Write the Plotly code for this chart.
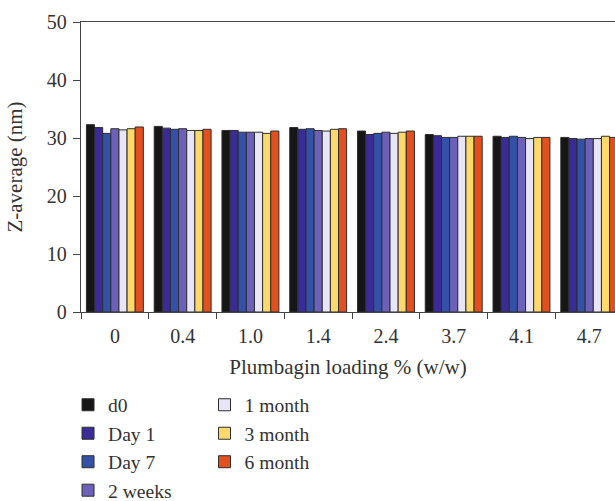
import plotly.graph_objects as go

categories = ["0", "0.4", "1.0", "1.4", "2.4", "3.7", "4.1", "4.7"]
series_names = ["d0", "Day 1", "Day 7", "2 weeks", "1 month", "3 month", "6 month"]
d0      = [32.3, 32.0, 31.3, 31.8, 31.2, 30.6, 30.3, 30.1]
day1    = [31.8, 31.7, 31.3, 31.5, 30.6, 30.4, 30.1, 29.9]
day7    = [30.8, 31.5, 31.0, 31.6, 30.8, 30.1, 30.3, 29.8]
weeks2  = [31.6, 31.6, 31.0, 31.3, 31.0, 30.1, 30.1, 29.9]
month1  = [31.4, 31.3, 31.0, 31.2, 30.8, 30.3, 29.9, 29.9]
month3  = [31.6, 31.3, 30.8, 31.5, 31.0, 30.3, 30.1, 30.3]
month6  = [31.9, 31.5, 31.2, 31.6, 31.2, 30.3, 30.1, 30.1]
colors = ["#161616", "#3a2b97", "#3451a8", "#6d60b8", "#e8e5f6", "#fdd86a", "#e2501f"]
y_ticks = [0, 10, 20, 30, 40, 50]

all_values = [d0, day1, day7, weeks2, month1, month3, month6]
FONT = "Liberation Serif"
INK = "#333333"

fig = go.Figure()
for i, (name, vals, col) in enumerate(zip(series_names, all_values, colors)):
    fig.add_trace(go.Bar(
        x=categories, y=vals, name=name,
        marker=dict(color=col, line=dict(color="#2e2e2e", width=1)),
        legend="legend" if i < 4 else "legend2",
    ))

fig.update_layout(
    width=615, height=501,
    margin=dict(l=81, r=0, t=22, b=189),
    paper_bgcolor="white", plot_bgcolor="white",
    barmode="group", bargap=0.16, bargroupgap=0,
    font=dict(family=FONT, size=20, color=INK),
    legend=dict(xref="paper", yref="container", x=-0.0243, y=0.2305,
                xanchor="left", yanchor="top", bgcolor="rgba(0,0,0,0)",
                font=dict(size=19.6, family=FONT, color=INK), traceorder="normal"),
    legend2=dict(xref="paper", yref="container", x=0.2313, y=0.2305,
                 xanchor="left", yanchor="top", bgcolor="rgba(0,0,0,0)",
                 font=dict(size=19.6, family=FONT, color=INK), traceorder="normal"),
    xaxis=dict(
        type="category", range=[-0.5, 7.38], automargin=True, tickangle=0,
        showline=True, linecolor="#444444", linewidth=1.3, mirror=True,
        ticks="outside", tickson="boundaries", ticklen=6, tickcolor="#444444", tickwidth=1.3,
        tickfont=dict(size=20, family=FONT, color=INK), ticklabelstandoff=6,
        showgrid=False, zeroline=False,
        title=dict(text="Plumbagin loading % (w/w)", font=dict(size=21, family=FONT, color=INK), standoff=13),
    ),
    yaxis=dict(
        range=[0, 50], tickvals=y_ticks, automargin=True,
        showline=True, linecolor="#444444", linewidth=1.3, mirror=False,
        ticks="outside", ticklen=7, tickcolor="#444444", tickwidth=1.3,
        tickfont=dict(size=20, family=FONT, color=INK), ticklabelstandoff=2,
        showgrid=False, zeroline=False,
        title=dict(text="Z-average (nm)", font=dict(size=21, family=FONT, color=INK), standoff=18),
    ),
)

fig.write_html(
    "out.html",
    config={"displayModeBar": False},
    post_script="document.body.style.margin='0';document.body.style.overflow='hidden';",
)
